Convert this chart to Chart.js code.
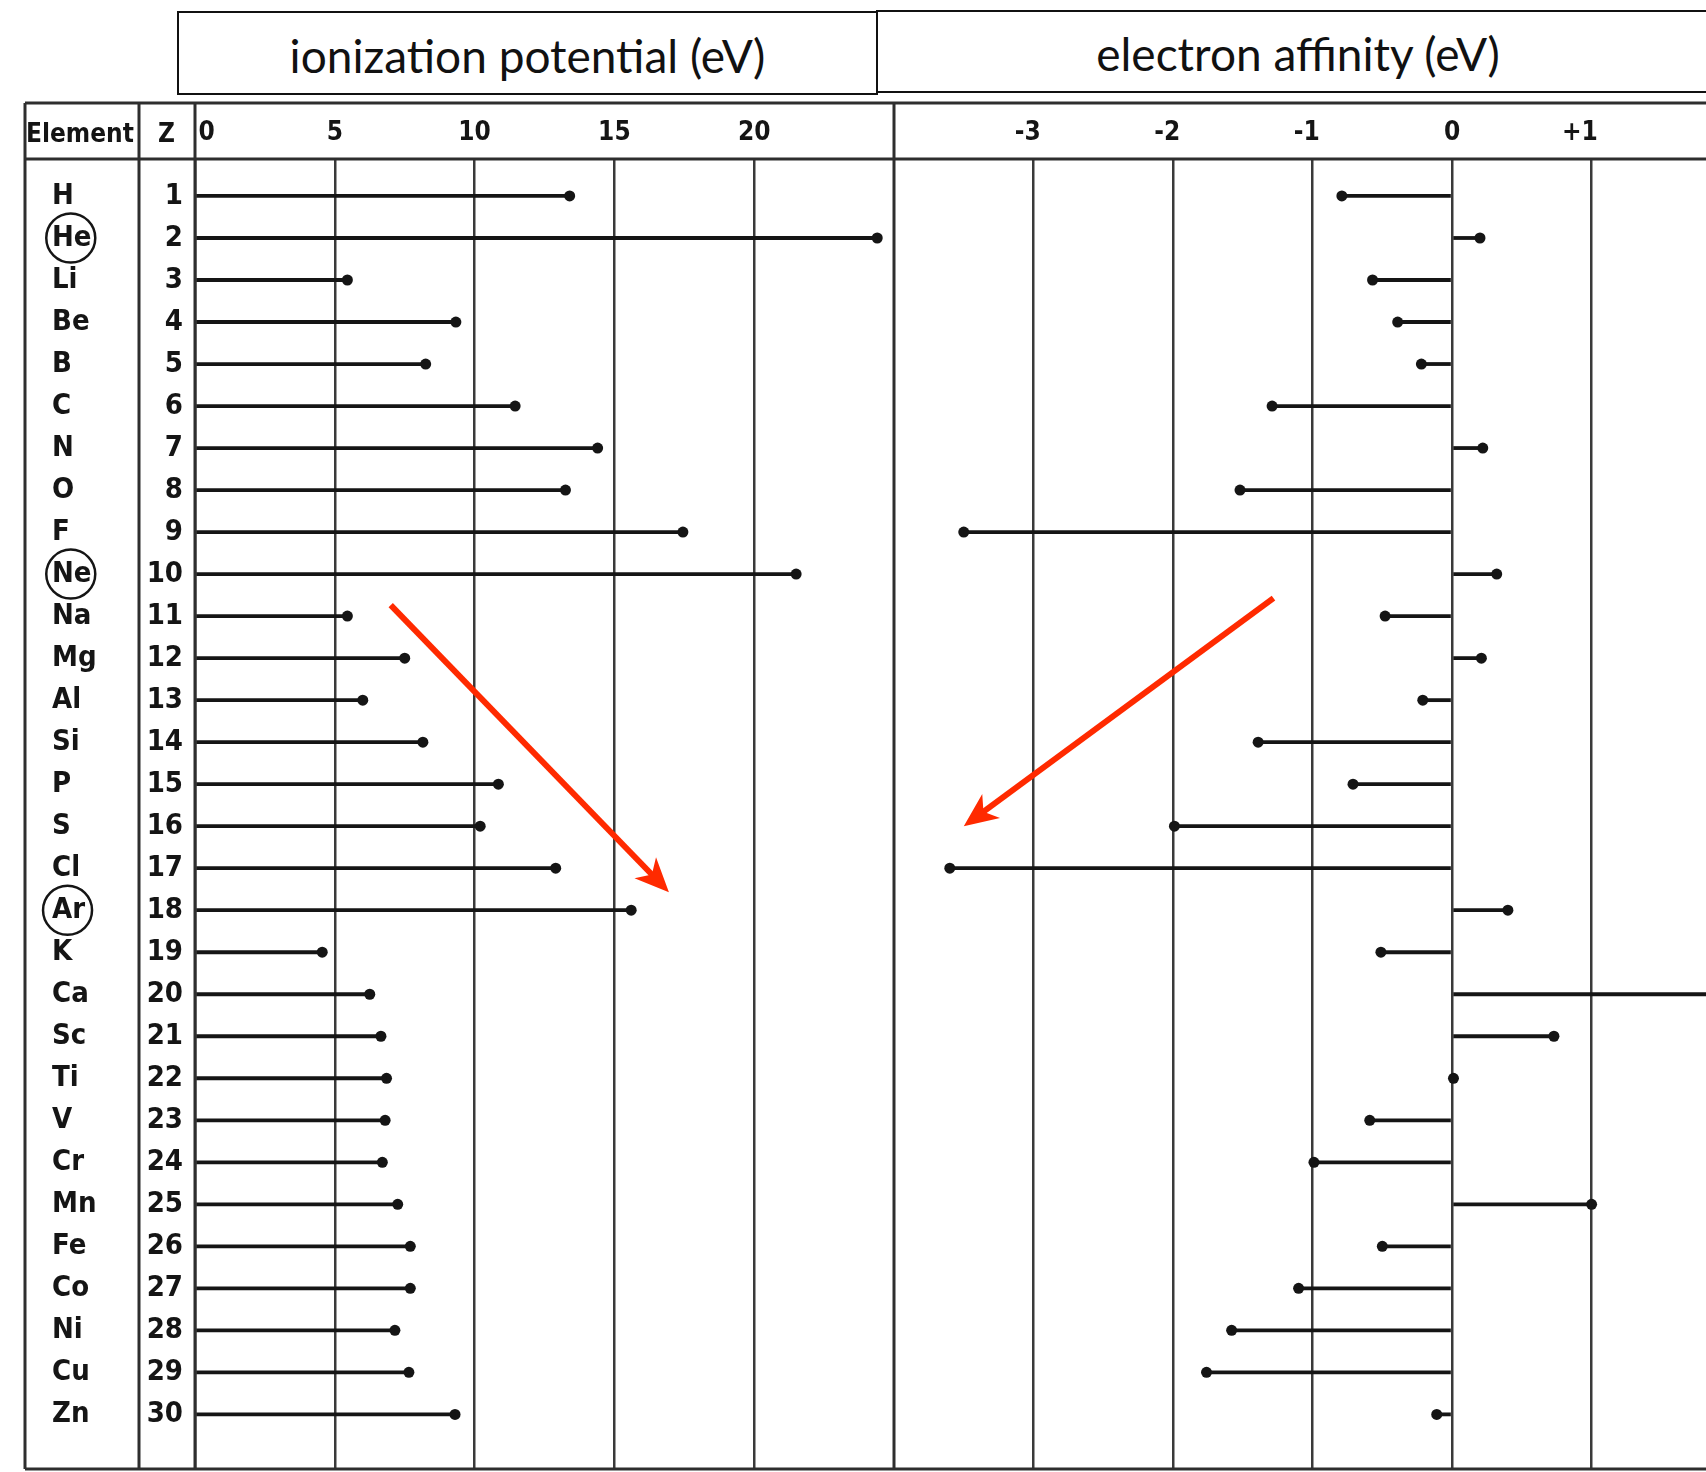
<!DOCTYPE html>
<html>
<head>
<meta charset="utf-8">
<script src="https://cdn.jsdelivr.net/npm/chart.js@4.4.1/dist/chart.umd.min.js"></script>
<style>
  html, body { margin: 0; padding: 0; background: #fff; overflow: hidden; }
  #wrap { position: relative; width: 1706px; height: 1472px; overflow: hidden; }
  #c { position: absolute; left: 0; top: 0; }
  .tbox { position: absolute; box-sizing: border-box; border: 2.5px solid #111; background: #fff;
          display: flex; align-items: center; justify-content: center;
          font-family: Lato, 'Open Sans', sans-serif; font-size: 46px; color: #111; padding-top: 4px; }
  .hdr { position: absolute; font-family: 'DejaVu Sans Condensed', 'DejaVu Sans', sans-serif;
         font-weight: bold; font-size: 26px; color: #141414; line-height: 1; }
</style>
</head>
<body>
<div id="wrap">
  <canvas id="c" width="1706" height="1472"></canvas>
  <div class="tbox" style="left:177px;top:11px;width:701px;height:84px;">ionization potential (eV)</div>
  <div class="tbox" style="left:876px;top:10px;width:844px;height:83px;">electron affinity (eV)</div>
  <div class="hdr" style="left:26px;top:120px;">Element</div>
  <div class="hdr" style="left:158px;top:120px;">Z</div>
</div>
<script>
// ---------- data ----------
const elements = ['H','He','Li','Be','B','C','N','O','F','Ne','Na','Mg','Al','Si','P','S','Cl','Ar','K','Ca','Sc','Ti','V','Cr','Mn','Fe','Co','Ni','Cu','Zn'];
const zNumbers = [1,2,3,4,5,6,7,8,9,10,11,12,13,14,15,16,17,18,19,20,21,22,23,24,25,26,27,28,29,30];
const ionization = [13.4,24.4,5.45,9.33,8.25,11.45,14.4,13.25,17.45,21.5,5.45,7.5,6.0,8.15,10.85,10.2,12.9,15.6,4.55,6.25,6.65,6.85,6.8,6.7,7.25,7.7,7.7,7.15,7.65,9.3];
const electronAffinity = [-0.79,0.20,-0.57,-0.39,-0.22,-1.29,0.22,-1.52,-3.50,0.32,-0.48,0.21,-0.21,-1.39,-0.71,-1.99,-3.60,0.40,-0.51,2.2,0.73,0.01,-0.59,-0.99,1.00,-0.50,-1.10,-1.58,-1.76,-0.11];
const ionTicks = [0,5,10,15,20];
const eaTicks = [-3,-2,-1,0,1];
const circled = ['He','Ne','Ar'];
// annotation arrows in data units: [axis, xStart, zStart, xEnd, zEnd]
const arrows = [['x1', 7.0, 10.74, 16.95, 17.57], ['x2', -1.28, 10.57, -3.5, 16.0]];

// ---------- styling ----------
const INK = '#151515';
const GRID = '#3a3a3a';
const FAM = "'DejaVu Sans Condensed', 'DejaVu Sans', sans-serif";

const ionPoints = zNumbers.map((z, i) => ({x: ionization[i], y: z}));
const eaPoints = zNumbers.map((z, i) => ({x: electronAffinity[i], y: z}));

function line(ctx, x0, y0, x1, y1) { ctx.beginPath(); ctx.moveTo(x0, y0); ctx.lineTo(x1, y1); ctx.stroke(); }

function drawArrow(ctx, x0, y0, x1, y1) {
  const a = Math.atan2(y1 - y0, x1 - x0), c = Math.cos(a), s = Math.sin(a);
  const L = 34, W = 15;
  ctx.beginPath(); ctx.moveTo(x0, y0); ctx.lineTo(x1 - c * L * 0.6, y1 - s * L * 0.6); ctx.stroke();
  const bx = x1 - c * L, by = y1 - s * L, nx = -s, ny = c;
  ctx.beginPath();
  ctx.moveTo(x1, y1);
  ctx.lineTo(bx + nx * W, by + ny * W);
  ctx.lineTo(x1 - c * L * 0.72, y1 - s * L * 0.72);
  ctx.lineTo(bx - nx * W, by - ny * W);
  ctx.closePath(); ctx.fill();
}

const tablePlugin = {
  id: 'table',
  afterDraw(chart) {
    const {ctx, chartArea: ca, scales} = chart;
    const yEl = scales.yEl, yZ = scales.yZ, x1 = scales.x1, x2 = scales.x2;
    const top = x1.top, hdr = ca.top, bot = ca.bottom, outer = yEl.left - 27, right = chart.width;
    ctx.save();
    ctx.strokeStyle = '#2e2e2e';
    ctx.lineWidth = 3;
    line(ctx, outer, top, right, top);
    line(ctx, outer, hdr, right, hdr);
    line(ctx, outer, bot, right, bot);
    line(ctx, outer, top, outer, bot);
    line(ctx, yZ.left, top, yZ.left, bot);
    line(ctx, x1.left, top, x1.left, bot);
    line(ctx, x2.left, top, x2.left, bot);
    // circles around noble gas symbols
    ctx.font = 'bold 29px ' + FAM;
    ctx.lineWidth = 2.5;
    ctx.strokeStyle = INK;
    circled.forEach(el => {
      const i = elements.indexOf(el);
      const w = ctx.measureText(el).width;
      const cx = yEl.left + w / 2 - 1, cy = yZ.getPixelForValue(zNumbers[i]);
      ctx.beginPath(); ctx.arc(cx, cy, 24.5, 0, Math.PI * 2); ctx.stroke();
    });
    // red arrows
    ctx.strokeStyle = '#ff2a00'; ctx.fillStyle = '#ff2a00'; ctx.lineWidth = 6; ctx.lineCap = 'butt';
    arrows.forEach(([ax, xa, za, xb, zb]) => {
      const sc = scales[ax];
      drawArrow(ctx, sc.getPixelForValue(xa), yZ.getPixelForValue(za), sc.getPixelForValue(xb), yZ.getPixelForValue(zb));
    });
    ctx.restore();
  }
};

const xCommon = {
  type: 'linear', axis: 'x', position: 'top', stack: 'top', offset: false,
  grid: { color: GRID, lineWidth: 2.5, drawTicks: false, offset: false },
  border: { display: false },
  ticks: { font: { family: FAM, size: 26, weight: 'bold' }, color: INK, padding: 10, autoSkip: false, maxRotation: 0 },
  afterFit(s) { s.height = 56; s.paddingLeft = 0; s.paddingRight = 0; }
};
const yCommon = {
  type: 'linear', axis: 'y', position: 'left', reverse: true, min: 0.12, max: 31.3, offset: false,
  grid: { display: false, drawTicks: false, offset: false }, border: { display: false },
  afterBuildTicks(s) { s.ticks = zNumbers.map(v => ({value: v})); }
};

new Chart(document.getElementById('c'), {
  type: 'bar',
  data: {
    datasets: [
      { type: 'bar', indexAxis: 'y', data: ionPoints, xAxisID: 'x1', yAxisID: 'yZ', backgroundColor: INK, borderWidth: 0, grouped: false, maxBarThickness: 3.8 },
      { type: 'bar', indexAxis: 'y', data: eaPoints, xAxisID: 'x2', yAxisID: 'yZ', backgroundColor: INK, borderWidth: 0, grouped: false, maxBarThickness: 3.8 },
      { type: 'scatter', indexAxis: 'x', data: ionPoints, xAxisID: 'x1', yAxisID: 'yZ', pointRadius: 5.5, pointBackgroundColor: INK, pointBorderWidth: 0, showLine: false },
      { type: 'scatter', indexAxis: 'x', data: eaPoints, xAxisID: 'x2', yAxisID: 'yZ', pointRadius: 5.5, pointBackgroundColor: INK, pointBorderWidth: 0, showLine: false }
    ]
  },
  options: {
    responsive: false, animation: false, devicePixelRatio: 1, events: [],
    indexAxis: 'y',
    layout: { autoPadding: false, padding: { top: 103, left: 52, right: 0, bottom: 3 } },
    plugins: { legend: { display: false }, tooltip: { enabled: false }, title: { display: false } },
    scales: {
      x1: Object.assign({}, xCommon, {
        weight: 2, stackWeight: 699, min: 0, max: 25,
        afterBuildTicks(s) { s.ticks = ionTicks.map(v => ({value: v})); },
        ticks: Object.assign({}, xCommon.ticks, { callback: v => v === 0 ? '\u2002\u20020' : String(v) })
      }),
      x2: Object.assign({}, xCommon, {
        weight: 1, stackWeight: 812, min: -4, max: 1.82,
        afterBuildTicks(s) { s.ticks = eaTicks.map(v => ({value: v})); },
        ticks: Object.assign({}, xCommon.ticks, {
          callback: v => v > 0 ? '+' + v + '\u2002\u2002' : (v < 0 ? String(v) + '\u2002' : String(v)) })
      }),
      yEl: Object.assign({}, yCommon, {
        weight: 2,
        ticks: { font: { family: FAM, size: 29, weight: 'bold' }, color: INK, crossAlign: 'far', padding: 0, autoSkip: false,
                 callback: v => elements[zNumbers.indexOf(v)] || '' },
        afterFit(s) { s.width = 87; s.paddingTop = 0; s.paddingBottom = 0; }
      }),
      yZ: Object.assign({}, yCommon, {
        weight: 1,
        ticks: { font: { family: FAM, size: 29, weight: 'bold' }, color: INK, crossAlign: 'near', padding: 12, autoSkip: false,
                 callback: v => String(v) },
        afterFit(s) { s.width = 56; s.paddingTop = 0; s.paddingBottom = 0; }
      })
    }
  },
  plugins: [tablePlugin]
});
</script>
</body>
</html>
